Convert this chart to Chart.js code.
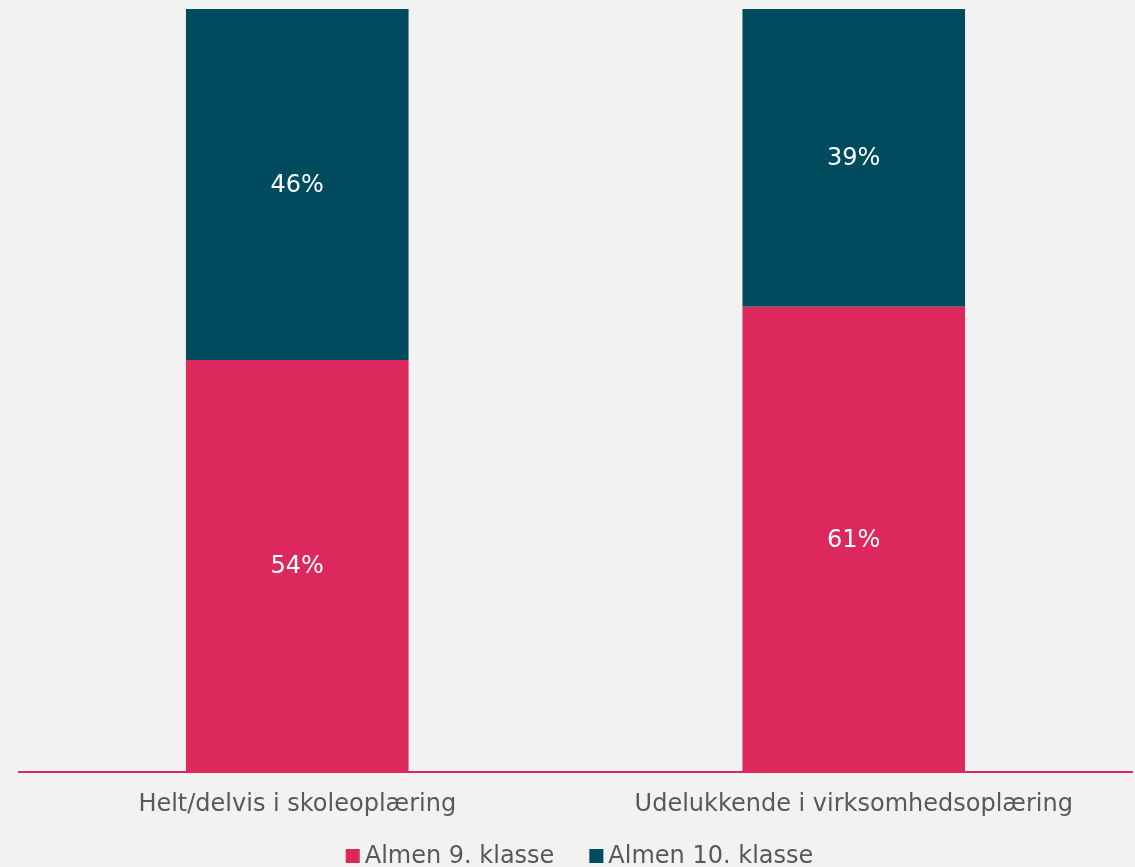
<!DOCTYPE html>
<html>
<head>
<meta charset="utf-8">
<script src="https://cdn.jsdelivr.net/npm/chart.js@4"></script>
<style>
  html, body { margin: 0; padding: 0; background: #f2f2f2; }
  #wrap { width: 1135px; height: 867px; }
</style>
</head>
<body>
<div id="wrap"><canvas id="chart"></canvas></div>
<script>
// Kategorier og andele (%)
const categories = ["Helt/delvis i skoleoplæring", "Udelukkende i virksomhedsoplæring"];
const almen9 = [54, 61];
const almen10 = [46, 39];
const seriesNames = ["Almen 9. klasse", "Almen 10. klasse"];

const fontFamily = "Verdana, 'DejaVu Sans', sans-serif";

// Skriver procenttal midt i hver søjle
const barLabels = {
  id: "barLabels",
  afterDatasetsDraw(chart) {
    const ctx = chart.ctx;
    ctx.save();
    ctx.fillStyle = "#ffffff";
    ctx.font = "24px " + fontFamily;
    ctx.textAlign = "center";
    ctx.textBaseline = "middle";
    chart.data.datasets.forEach((ds, i) => {
      chart.getDatasetMeta(i).data.forEach((bar, j) => {
        const mid = (bar.y + bar.base) / 2;
        ctx.fillText(ds.data[j] + "%", bar.x, mid + 1);
      });
    });
    ctx.restore();
  },
};

// Tegner legenden tæt under aksen (små firkanter lige før teksten)
const bottomLegend = {
  id: "bottomLegend",
  afterDraw(chart) {
    const ctx = chart.ctx;
    const box = 14, gap = 5, spacing = 35;
    const baseline = chart.height - 4;
    ctx.save();
    ctx.font = "24px " + fontFamily;
    ctx.textBaseline = "alphabetic";
    const items = chart.data.datasets.map((ds) => ({
      text: ds.label,
      color: ds.backgroundColor,
      w: ctx.measureText(ds.label).width,
    }));
    const total = items.reduce((s, it) => s + box + gap + it.w, 0) + spacing * (items.length - 1);
    const area = chart.chartArea;
    let x = (area.left + area.right) / 2 - total / 2 + 4;
    items.forEach((it) => {
      ctx.fillStyle = it.color;
      ctx.fillRect(x, baseline - box, box, box);
      ctx.fillStyle = "#595959";
      ctx.fillText(it.text, x + box + gap, baseline);
      x += box + gap + it.w + spacing;
    });
    ctx.restore();
  },
};

new Chart(document.getElementById("chart"), {
  type: "bar",
  data: {
    labels: categories,
    datasets: [
      { label: seriesNames[0], data: almen9, backgroundColor: "#dc285c", categoryPercentage: 0.4, barPercentage: 1 },
      { label: seriesNames[1], data: almen10, backgroundColor: "#014b5f", categoryPercentage: 0.4, barPercentage: 1 },
    ],
  },
  options: {
    responsive: true,
    maintainAspectRatio: false,
    animation: false,
    layout: { padding: { left: 19, right: 3, top: 9, bottom: 38 } },
    plugins: {
      tooltip: { enabled: false },
      legend: { display: false },
    },
    scales: {
      x: {
        stacked: true,
        grid: { display: false },
        border: { color: "#dc285c", width: 2 },
        ticks: {
          color: "#595959",
          padding: 10,
          font: { size: 24, family: fontFamily },
        },
      },
      y: {
        stacked: true,
        display: false,
        min: 0,
        max: 100,
      },
    },
  },
  plugins: [barLabels, bottomLegend],
});
</script>
</body>
</html>
